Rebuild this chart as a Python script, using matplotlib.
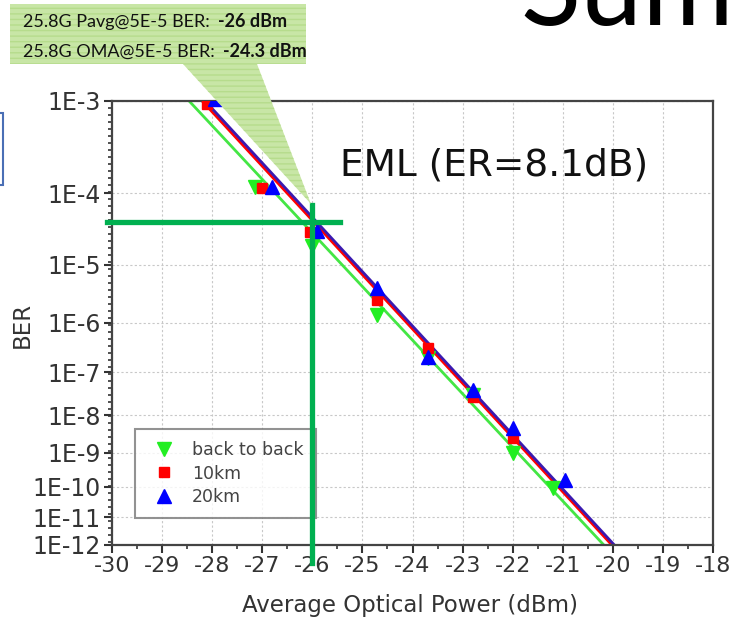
import numpy as np
import matplotlib.pyplot as plt
from matplotlib.patches import Polygon, Rectangle

# BER curves, EML (ER=8.1dB), 25.8G
power_b2b = [-27.15, -26.0, -24.7, -23.7, -22.8, -22.0, -21.2]
ber_b2b = [1.2e-4, 1.9e-5, 1.4e-6, 2.0e-7, 3.0e-8, 1.0e-9, 9e-11]

power_10km = [-28.1, -27.0, -26.05, -24.7, -23.7, -22.8, -22.0]
ber_10km = [9.4e-4, 1.15e-4, 3.0e-5, 2.6e-6, 3.3e-7, 2.8e-8, 2.6e-9]

power_20km = [-27.95, -26.8, -25.9, -24.7, -23.7, -22.8, -22.0, -20.95]
ber_20km = [1.05e-3, 1.2e-4, 3.1e-5, 4.2e-6, 2.1e-7, 4.1e-8, 4.8e-9, 1.6e-10]

# linear fits (end points read at the plot edges)
fit_ber = [1e-3, 1e-12]
fit_b2b = [-28.46, -20.18]
fit_10km = [-28.2, -20.02]
fit_20km = [-28.14, -19.97]

ber_ticks = [1e-3, 1e-4, 1e-5, 1e-6, 1e-7, 1e-8, 1e-9, 1e-10, 1e-11, 1e-12]
ber_tick_labels = ['1E-3', '1E-4', '1E-5', '1E-6', '1E-7', '1E-8', '1E-9', '1E-10', '1E-11', '1E-12']
power_ticks = np.arange(-30, -17, 1)

# sensitivity marker
target_power = -26.0
target_ber = 4.2e-5
callout_lines = [('25.8G Pavg@5E-5 BER:', '-26 dBm'), ('25.8G OMA@5E-5 BER:', '-24.3 dBm')]


def fwd(b):
    b = np.clip(np.asarray(b, dtype=float), 1e-300, 0.999)
    return -np.log10(-np.log10(b))


def inv(t):
    return 10 ** (-(10 ** (-np.asarray(t, dtype=float))))


def fx(x):
    return x / 736


def fy(y):
    return 1 - y / 623


fig = plt.figure(figsize=(7.36, 6.23), dpi=100)
ax = fig.add_axes([fx(112), fy(545), fx(713) - fx(112), fy(101) - fy(545)])
ax.set_yscale('function', functions=(fwd, inv))

ax.plot(fit_b2b, fit_ber, color='#44e644', lw=2.0, zorder=2)
ax.plot(fit_10km, fit_ber, color='#ff0000', lw=2.0, zorder=2)
ax.plot(fit_20km, fit_ber, color='#3a1ab0', lw=2.0, zorder=2)

ax.plot(power_b2b, ber_b2b, 'v', color='#22ee22', ms=10, ls='none', label='back to back', zorder=3)
ax.plot(power_10km, ber_10km, 's', color='#ff0000', ms=7.5, ls='none', label='10km', zorder=3)
ax.plot(power_20km, ber_20km, '^', color='#0000ff', ms=10, ls='none', label='20km', zorder=3)

ax.set_xlim(-30, -18)
ax.set_ylim(1e-12, 1e-3)
ax.set_xticks(power_ticks, labels=[str(p) for p in power_ticks])
ax.set_xticks(np.arange(-29.5, -18, 1), minor=True)
ax.set_yticks(ber_ticks, labels=ber_tick_labels)
ax.set_yticks(inv(np.arange(fwd(1e-3) - 0.0095, fwd(1e-12), -0.0095)), minor=True)

ax.tick_params(which='major', direction='out', length=6, width=1.5, labelsize=16, colors='#333333', pad=2)
ax.tick_params(axis='y', which='major', labelsize=17)
ax.tick_params(which='minor', direction='out', length=3, width=1.2, colors='#333333')
for s in ax.spines.values():
    s.set_color('#444444')
    s.set_linewidth(1.6)

ax.grid(True, which='major', color='#c8c8c8', lw=0.8, ls=(0, (2, 2)))
ax.set_axisbelow(True)

ax.set_xlabel('Average Optical Power (dBm)', fontsize=16.5, color='#333333')
ax.xaxis.set_label_coords(0.496, -0.11)
ax.set_ylabel('BER', fontsize=16.5, color='#333333')
ax.yaxis.set_label_coords(-0.13, 0.495)

ax.text(0.38, 0.855, 'EML (ER=8.1dB)', transform=ax.transAxes, fontsize=27, color='#111111', va='center')

leg = ax.legend(loc='lower left', bbox_to_anchor=(0.038, 0.061), fontsize=12.5, frameon=True,
                fancybox=False, edgecolor='#777777', labelspacing=0.3, handletextpad=0.6,
                borderpad=0.7, handlelength=2.0, borderaxespad=0)
leg.get_frame().set_linewidth(1.5)
for t in leg.get_texts():
    t.set_color('#444444')

# green crosshair at the sensitivity point
ax.plot([-30.1, -25.45], [target_ber, target_ber], color='#00b050', lw=3.8, clip_on=False, zorder=6)
ax.plot([target_power, target_power], [7e-5, 2e-13], color='#00b050', lw=3.8, clip_on=False, zorder=6)

# callout box
box_pts = [(10, 4), (306, 4), (306, 64), (257, 64), (311, 204), (183, 64), (10, 64)]
box_xy = [(fx(x), fy(y)) for x, y in box_pts]
fig.add_artist(Polygon(box_xy, closed=True, transform=fig.transFigure, facecolor='#c8e6a6',
                       edgecolor='none', lw=0, zorder=1))
fig.add_artist(Polygon(box_xy, closed=True, transform=fig.transFigure, facecolor='none',
                       edgecolor='#b6dc8c', hatch='---', lw=0, zorder=1.1))

renderer = fig.canvas.get_renderer()
for (plain, bold), base in zip(callout_lines, [27, 57]):
    t = fig.text(fx(23), fy(base), plain, fontsize=13, family='Lato', color='#111111', va='baseline', zorder=2)
    x_end = t.get_window_extent(renderer).x1
    fig.text(x_end / fig.bbox.width + fx(8), fy(base), bold, fontsize=13, family='Lato', weight='bold',
             color='#111111', va='baseline', zorder=2)

# slide title fragment and shape edge
fig.text(fx(520), fy(25), 'Summary', fontsize=80, family='Lato', color='black', va='baseline')
fig.add_artist(Rectangle((fx(-20), fy(185)), fx(23), fy(113) - fy(185), transform=fig.transFigure,
                         facecolor='none', edgecolor='#4a6fb5', lw=1.5))

fig.savefig('out.png', dpi=100)
